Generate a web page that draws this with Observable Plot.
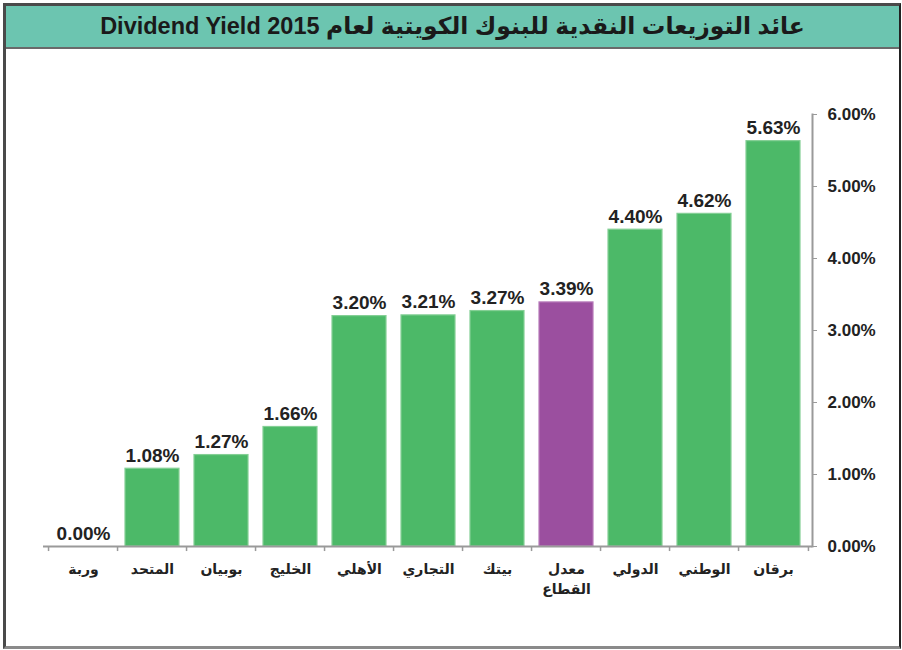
<!DOCTYPE html>
<html>
<head>
<meta charset="utf-8">
<script src="https://cdn.jsdelivr.net/npm/d3@7"></script>
<script src="https://cdn.jsdelivr.net/npm/@observablehq/plot@0.6"></script>
<style>
  html, body { margin: 0; padding: 0; background: #fff; }
  #frame {
    position: absolute; left: 3px; top: 3px;
    width: 898px; height: 646px; box-sizing: border-box;
    border: 3px solid #4a4a4a; border-right-width: 2px; border-right-color: #222;
    border-bottom-color: #8a8a8a;
    background: #fff; overflow: hidden;
  }
  #title {
    height: 41px; background: #6cc5b0; border-bottom: 2px solid #6a6a6a;
    font-family: "Liberation Sans", Arial, "DejaVu Sans", sans-serif;
    font-weight: bold; font-size: 23.5px; color: #1a1a1a;
    text-align: center; line-height: 41px; direction: rtl;
  }
  #chart svg { display: block; }
</style>
</head>
<body>
<div id="frame">
  <div id="title">عائد التوزيعات النقدية للبنوك الكويتية لعام Dividend Yield 2015</div>
  <div id="chart"></div>
</div>
<script>
const categories = ["وربة", "المتحد", "بوبيان", "الخليج", "الأهلي", "التجاري", "بيتك", "معدل\nالقطاع", "الدولي", "الوطني", "برقان"];
const values = [0.00, 1.08, 1.27, 1.66, 3.20, 3.21, 3.27, 3.39, 4.40, 4.62, 5.63];
const yTicks = [0, 1, 2, 3, 4, 5, 6];
const highlight = "معدل\nالقطاع";

const data = categories.map((c, i) => ({cat: c, value: values[i]}));

const width = 892, height = 590;
const marginLeft = 37, marginRight = 86, marginTop = 65, marginBottom = 93;
const step = (width - marginLeft - marginRight) / categories.length;
const font = "'Liberation Sans', Arial, 'DejaVu Sans', sans-serif";

const chart = Plot.plot({
  width, height, marginLeft, marginRight, marginTop, marginBottom,
  style: {fontFamily: font, color: "#222", background: "#fff", overflow: "visible"},
  x: {domain: categories, paddingInner: 0.22, paddingOuter: 0.11, label: null},
  y: {domain: [0, 6], label: null},
  marks: [
    Plot.barY(data, {
      x: "cat", y: "value",
      fill: d => d.cat === highlight ? "#9b4f9f" : "#4cb968",
      stroke: d => d.cat === highlight ? "#b77bba" : "#84cf95",
      strokeWidth: 1.2
    }),
    Plot.text(data, {
      x: "cat", y: "value", text: d => d.value.toFixed(2) + "%",
      lineAnchor: "bottom", dy: -7, fontSize: 19, fontWeight: "bold", fill: "#222"
    }),
    Plot.ruleY([0], {stroke: "#9a9a9a", strokeWidth: 2}),
    Plot.frame({anchor: "right", stroke: "#9a9a9a", strokeWidth: 2}),
    Plot.ruleX(categories, {x: d => d, dx: -step / 2, y1: 0, y2: -0.07, stroke: "#9a9a9a", strokeWidth: 1.5}),
    Plot.ruleX([categories[categories.length - 1]], {x: d => d, dx: step / 2, y1: 0, y2: -0.07, stroke: "#9a9a9a", strokeWidth: 1.5}),
    Plot.axisY({
      anchor: "right", ticks: yTicks, tickSize: 4, tickPadding: 11,
      tickFormat: d => d.toFixed(2) + "%",
      fontSize: 17, fontWeight: "bold", fill: "#222", stroke: "#9a9a9a", label: null
    }),
    Plot.axisX({
      anchor: "bottom", tickSize: 0, tickPadding: 13,
      fontSize: 14, fontWeight: "bold", fill: "#222", lineHeight: 1.45, label: null
    })
  ]
});
document.getElementById("chart").appendChild(chart);
</script>
</body>
</html>
